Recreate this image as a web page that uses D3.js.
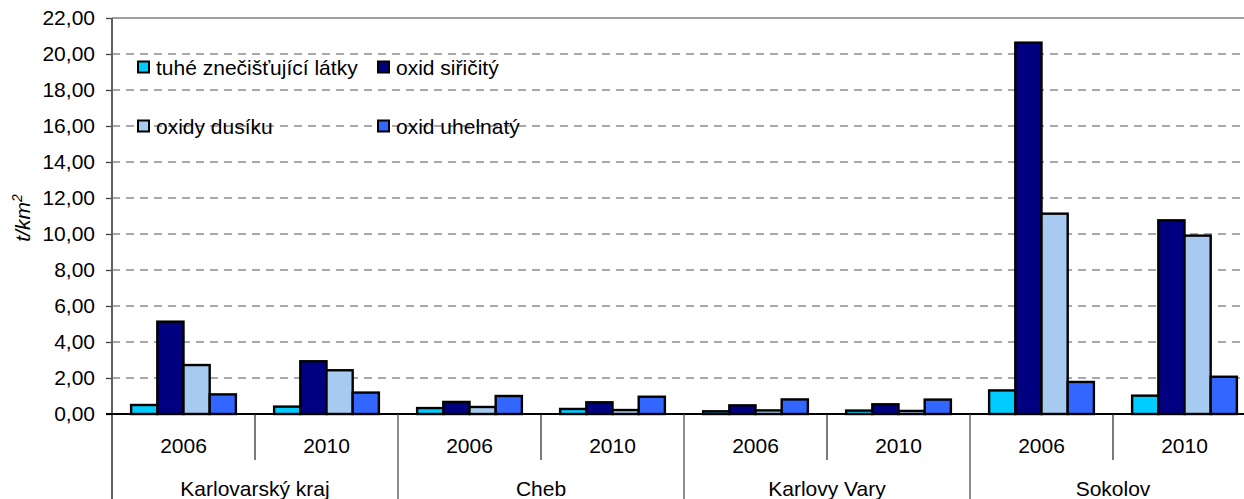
<!DOCTYPE html>
<html>
<head>
<meta charset="utf-8">
<script src="https://cdn.jsdelivr.net/npm/d3@7"></script>
<style>
  html, body { margin: 0; padding: 0; background: #fff; }
  svg { display: block; font-family: "Liberation Sans", Arial, sans-serif; }
</style>
</head>
<body>
<svg id="chart" width="1244" height="499"></svg>
<script>
// Districts and years on the two-level category axis
const districts = ["Karlovarský kraj", "Cheb", "Karlovy Vary", "Sokolov"];
const years = ["2006", "2010"];

// Emission density by pollutant, t/km², ordered district by district, 2006 then 2010
const seriesNames = ["tuhé znečišťující látky", "oxid siřičitý", "oxidy dusíku", "oxid uhelnatý"];
const tuhe   = [0.50, 0.41, 0.33, 0.28, 0.15, 0.19, 1.31, 1.02];
const so2    = [5.13, 2.93, 0.67, 0.65, 0.48, 0.54, 20.63, 10.76];
const nox    = [2.72, 2.43, 0.39, 0.22, 0.20, 0.17, 11.13, 9.91];
const co     = [1.09, 1.19, 1.00, 0.96, 0.81, 0.80, 1.78, 2.07];
const yTicks = [0, 2, 4, 6, 8, 10, 12, 14, 16, 18, 20, 22];

const seriesValues = [tuhe, so2, nox, co];
const colors = ["#00ccff", "#000080", "#a6caf0", "#3366ff"];

const svg = d3.select("#chart");
const fontSize = 21;

const plotLeft = 112, plotRight = 1256, plotTop = 18, plotBottom = 414;

// One slot per district/year pair
const slots = [];
districts.forEach(d => years.forEach(y => slots.push({ district: d, year: y })));
const slotKey = s => s.district + "|" + s.year;

const x = d3.scaleBand().domain(slots.map(slotKey)).range([plotLeft, plotRight]).padding(0);
const xInner = d3.scaleBand().domain(d3.range(seriesNames.length))
  .range([0, x.bandwidth()]).paddingInner(0).paddingOuter(0.73);
const y = d3.scaleLinear().domain([0, 22]).range([plotBottom, plotTop]);

// Horizontal dashed gridlines
svg.append("g").selectAll("line")
  .data(yTicks.filter(t => t > 0 && t < 22))
  .join("line")
  .attr("x1", plotLeft).attr("x2", 1244)
  .attr("y1", d => y(d)).attr("y2", d => y(d))
  .attr("stroke", "#8c8c8c").attr("stroke-width", 1.3)
  .attr("stroke-dasharray", "8,6");

// Top border of the plot area
svg.append("line")
  .attr("x1", plotLeft).attr("x2", 1244).attr("y1", y(22)).attr("y2", y(22))
  .attr("stroke", "#808080").attr("stroke-width", 1.5);

// Y axis
const yAxis = d3.axisLeft(y).tickValues(yTicks).tickSize(6).tickPadding(11)
  .tickFormat(d => d3.format(".2f")(d).replace(".", ","));
const gy = svg.append("g").attr("transform", `translate(${plotLeft},0)`).call(yAxis);
gy.select(".domain").remove();
gy.selectAll(".tick line").attr("stroke", "#404040").attr("stroke-width", 1.3);
gy.selectAll(".tick text").attr("font-size", fontSize).attr("fill", "#000")
  .attr("font-family", "Liberation Sans, Arial, sans-serif");

// Bars
const barData = [];
slots.forEach((s, i) => {
  seriesValues.forEach((vals, k) => {
    barData.push({ slot: slotKey(s), k, value: vals[i] });
  });
});
svg.append("g").selectAll("rect")
  .data(barData)
  .join("rect")
  .attr("x", d => x(d.slot) + xInner(d.k))
  .attr("width", xInner.bandwidth())
  .attr("y", d => y(d.value))
  .attr("height", d => y(0) - y(d.value))
  .attr("fill", d => colors[d.k])
  .attr("stroke", "#000").attr("stroke-width", 2.4);

// Vertical axis line running down through the category labels
svg.append("line")
  .attr("x1", plotLeft).attr("x2", plotLeft).attr("y1", plotTop).attr("y2", 499)
  .attr("stroke", "#606060").attr("stroke-width", 2);

// Baseline
svg.append("line")
  .attr("x1", plotLeft - 6).attr("x2", 1244).attr("y1", y(0)).attr("y2", y(0))
  .attr("stroke", "#000").attr("stroke-width", 1.8);

// Category axis: year dividers, district dividers and labels
const gx = svg.append("g");
districts.forEach((d, di) => {
  const first = x(d + "|" + years[0]);
  const last = x(d + "|" + years[years.length - 1]) + x.bandwidth();
  // divider between years inside a district
  years.slice(1).forEach(yr => {
    const xx = x(d + "|" + yr);
    gx.append("line").attr("x1", xx).attr("x2", xx)
      .attr("y1", plotBottom).attr("y2", 460)
      .attr("stroke", "#202020").attr("stroke-width", 1.2);
  });
  if (di > 0) {
    gx.append("line").attr("x1", first).attr("x2", first)
      .attr("y1", plotBottom).attr("y2", 499)
      .attr("stroke", "#404040").attr("stroke-width", 1.2);
  }
  years.forEach(yr => {
    gx.append("text")
      .attr("x", x(d + "|" + yr) + x.bandwidth() / 2)
      .attr("y", 453)
      .attr("text-anchor", "middle")
      .attr("font-size", fontSize)
      .text(yr);
  });
  gx.append("text")
    .attr("x", (first + last) / 2)
    .attr("y", 496)
    .attr("text-anchor", "middle")
    .attr("font-size", fontSize)
    .text(d);
});

// Y axis title
svg.append("text")
  .attr("transform", "translate(30,218) rotate(-90)")
  .attr("text-anchor", "middle")
  .attr("font-size", fontSize)
  .attr("font-style", "italic")
  .html('t/km<tspan dy="-8" font-size="14">2</tspan>');

// Legend in two rows of two
const legendPos = [
  { x: 138, y: 67 }, { x: 378, y: 67 },
  { x: 138, y: 126 }, { x: 378, y: 126 }
];
const lg = svg.append("g");
seriesNames.forEach((name, k) => {
  const p = legendPos[k];
  lg.append("rect")
    .attr("x", p.x).attr("y", p.y - 5.5)
    .attr("width", 11).attr("height", 11)
    .attr("fill", colors[k]).attr("stroke", "#000").attr("stroke-width", 2);
  lg.append("text")
    .attr("x", p.x + 18).attr("y", p.y + 8)
    .attr("font-size", fontSize)
    .text(name);
});
</script>
</body>
</html>
